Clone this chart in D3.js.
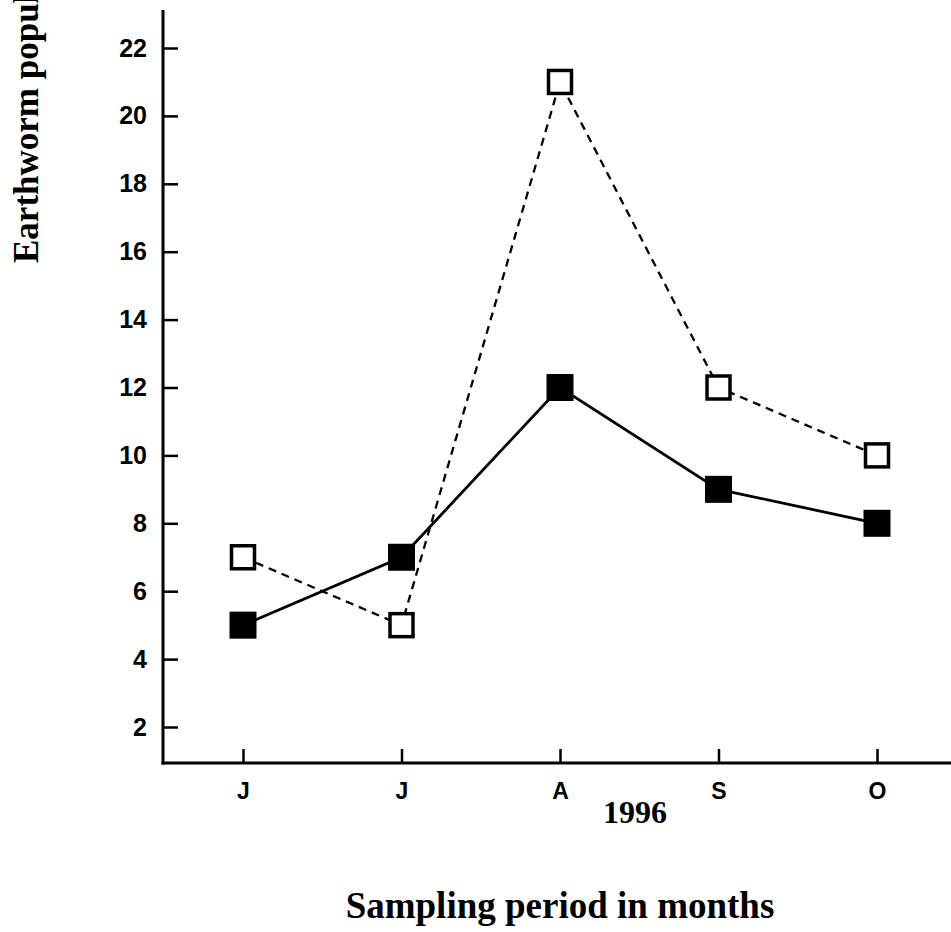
<!DOCTYPE html>
<html>
<head>
<meta charset="utf-8">
<script src="https://cdn.jsdelivr.net/npm/d3@7"></script>
<style>
  html, body { margin: 0; padding: 0; background: #fff; }
  svg { display: block; }
</style>
</head>
<body>
<svg id="chart" width="951" height="932"></svg>
<script>
// Sampling months (1996) and the two earthworm population series.
const months = ["J", "J", "A", "S", "O"];
const filledSeries = [5, 7, 12, 9, 8];
const openSeries = [7, 5, 21, 12, 10];
const yTicks = [2, 4, 6, 8, 10, 12, 14, 16, 18, 20, 22];

const svg = d3.select("#chart");

// Axis frame in pixels.
const axisX = 163;
const axisY = 763;

const x = d3.scalePoint()
    .domain(d3.range(months.length))
    .range([243, 877]);

const y = d3.scaleLinear()
    .domain([2, 22])
    .range([727, 48]);

const sansFont = "'Liberation Sans', Arial, sans-serif";
const serifFont = "'Liberation Serif', 'Times New Roman', serif";

// Y axis: ticks point inward (to the right).
const yAxis = d3.axisLeft(y)
    .tickValues(yTicks)
    .tickSizeInner(-15)
    .tickSizeOuter(0)
    .tickPadding(16);

const gy = svg.append("g")
    .attr("transform", `translate(${axisX},0)`)
    .call(yAxis);
gy.select(".domain").remove();
gy.selectAll(".tick line").attr("stroke", "#000").attr("stroke-width", 2.5);
gy.selectAll(".tick text")
    .attr("fill", "#000")
    .style("font-family", sansFont)
    .style("font-weight", "bold")
    .style("font-size", "25px");

// X axis: ticks point upward.
const xAxis = d3.axisBottom(x)
    .tickFormat(i => months[i])
    .tickSizeInner(-14)
    .tickSizeOuter(0)
    .tickPadding(20);

const gx = svg.append("g")
    .attr("transform", `translate(0,${axisY})`)
    .call(xAxis);
gx.select(".domain").remove();
gx.selectAll(".tick line").attr("stroke", "#000").attr("stroke-width", 2.5);
gx.selectAll(".tick text")
    .attr("fill", "#000")
    .style("font-family", sansFont)
    .style("font-weight", "bold")
    .style("font-size", "23px");

// Axis lines.
svg.append("line")
    .attr("x1", axisX).attr("x2", axisX)
    .attr("y1", 10).attr("y2", axisY + 1.5)
    .attr("stroke", "#000").attr("stroke-width", 3);
svg.append("line")
    .attr("x1", axisX - 1.5).attr("x2", 951)
    .attr("y1", axisY).attr("y2", axisY)
    .attr("stroke", "#000").attr("stroke-width", 3);

// Lines.
const line = d3.line()
    .x((d, i) => x(i))
    .y(d => y(d));

svg.append("path")
    .datum(openSeries)
    .attr("d", line)
    .attr("fill", "none")
    .attr("stroke", "#000")
    .attr("stroke-width", 2.3)
    .attr("stroke-dasharray", "8,6");

svg.append("path")
    .datum(filledSeries)
    .attr("d", line)
    .attr("fill", "none")
    .attr("stroke", "#000")
    .attr("stroke-width", 2.8);

// Markers.
const filledSize = 27;
svg.append("g")
    .selectAll("rect")
    .data(filledSeries)
    .join("rect")
    .attr("x", (d, i) => x(i) - filledSize / 2)
    .attr("y", d => y(d) - filledSize / 2)
    .attr("width", filledSize)
    .attr("height", filledSize)
    .attr("fill", "#000");

const openSize = 23;
svg.append("g")
    .selectAll("rect")
    .data(openSeries)
    .join("rect")
    .attr("x", (d, i) => x(i) - openSize / 2)
    .attr("y", d => y(d) - openSize / 2)
    .attr("width", openSize)
    .attr("height", openSize)
    .attr("fill", "#fff")
    .attr("stroke", "#000")
    .attr("stroke-width", 3.5);

// Year label under the axis.
svg.append("text")
    .attr("x", 635)
    .attr("y", 823)
    .attr("text-anchor", "middle")
    .style("font-family", serifFont)
    .style("font-weight", "bold")
    .style("font-size", "32px")
    .text("1996");

// Axis titles.
svg.append("text")
    .attr("x", 560)
    .attr("y", 918)
    .attr("text-anchor", "middle")
    .style("font-family", serifFont)
    .style("font-weight", "bold")
    .style("font-size", "37px")
    .text("Sampling period in months");

svg.append("text")
    .attr("transform", "translate(38,263) rotate(-90)")
    .attr("text-anchor", "start")
    .style("font-family", serifFont)
    .style("font-weight", "bold")
    .style("font-size", "35px")
    .text("Earthworm population");
</script>
</body>
</html>
